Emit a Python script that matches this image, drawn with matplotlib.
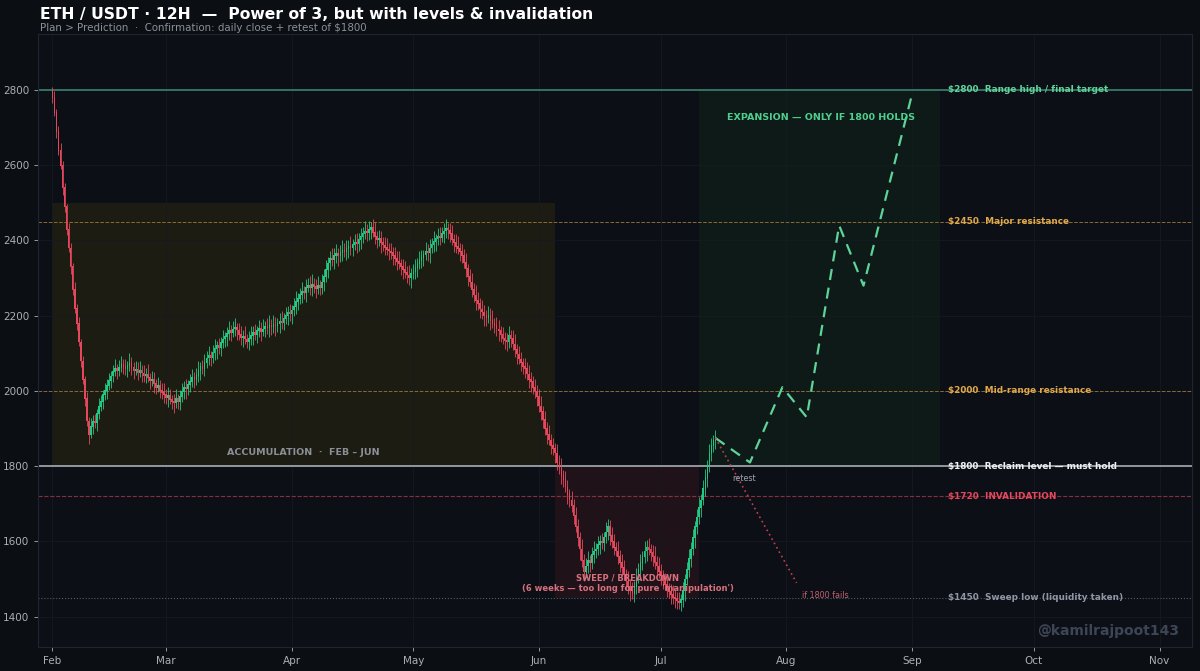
import matplotlib
matplotlib.use("Agg")
import matplotlib.pyplot as plt
import matplotlib.dates as mdates
import numpy as np
import pandas as pd

# 12H closes, Feb 1 -> Jul 14 (one row = one week)
closes = [
    2780, 2740, 2690, 2640, 2600, 2540, 2490, 2430, 2380, 2330, 2270, 2220, 2180, 2130,
    2080, 2030, 1980, 1920, 1885, 1905, 1920, 1915, 1940, 1958, 1972, 1990, 2002, 2015,
    2028, 2040, 2052, 2060, 2055, 2063, 2070, 2066, 2060, 2068, 2074, 2062, 2055, 2058,
    2050, 2056, 2048, 2040, 2045, 2035, 2028, 2032, 2020, 2010, 2015, 2002, 1995, 1990,
    1982, 1988, 1978, 1972, 1968, 1980, 1972, 1985, 1998, 2010, 2005, 2018, 2025, 2035,
    2030, 2042, 2055, 2065, 2060, 2075, 2088, 2095, 2090, 2102, 2112, 2120, 2115, 2128,
    2138, 2145, 2152, 2160, 2156, 2165, 2170, 2162, 2150, 2142, 2146, 2138, 2132, 2140,
    2148, 2155, 2150, 2160, 2166, 2158, 2165, 2172, 2168, 2175, 2170, 2178, 2174, 2180,
    2186, 2182, 2192, 2200, 2208, 2205, 2215, 2225, 2238, 2245, 2256, 2265, 2262, 2275,
    2282, 2276, 2284, 2278, 2272, 2280, 2276, 2290, 2305, 2322, 2340, 2352, 2348, 2360,
    2366, 2360, 2368, 2375, 2370, 2378, 2385, 2380, 2390, 2396, 2392, 2402, 2410, 2418,
    2425, 2420, 2430, 2435, 2422, 2410, 2402, 2405, 2395, 2388, 2382, 2376, 2372, 2368,
    2360, 2352, 2345, 2338, 2330, 2322, 2315, 2308, 2302, 2312, 2318, 2328, 2338, 2346,
    2355, 2362, 2372, 2368, 2380, 2390, 2398, 2405, 2412, 2408, 2418, 2425, 2432, 2428,
    2418, 2402, 2395, 2385, 2378, 2370, 2360, 2342, 2325, 2305, 2290, 2270, 2255, 2240,
    2232, 2218, 2210, 2200, 2195, 2202, 2188, 2180, 2175, 2165, 2160, 2150, 2140, 2135,
    2130, 2148, 2140, 2125, 2110, 2098, 2085, 2075, 2065, 2060, 2045, 2030, 2025, 2010,
    2000, 1985, 1960, 1945, 1925, 1900, 1885, 1870, 1855, 1848, 1835, 1810, 1795, 1775,
    1765, 1745, 1725, 1710, 1695, 1670, 1640, 1610, 1580, 1550, 1520, 1535, 1550, 1545,
    1565, 1575, 1580, 1592, 1600, 1598, 1612, 1625, 1640, 1615, 1600, 1585, 1575, 1560,
    1545, 1530, 1512, 1495, 1480, 1470, 1462, 1480, 1505, 1525, 1545, 1560, 1575, 1585,
    1578, 1570, 1560, 1545, 1535, 1520, 1510, 1495, 1485, 1475, 1468, 1460, 1452, 1448,
    1442, 1438, 1445, 1470, 1500, 1525, 1555, 1580, 1610, 1640, 1665, 1690, 1710, 1740,
    1770, 1800, 1835, 1855, 1868, 1875,
]
first_open = 2795

wick_up = [
    12, 18, 9, 15, 20, 11, 14, 8, 17, 13, 10, 19, 12, 16,
    9, 14, 11, 18, 10, 22, 15, 19, 12, 24, 17, 13, 20, 16,
    21, 14, 18, 25, 12, 19, 23, 15, 20, 13, 26, 17, 14, 22,
    18, 24, 13, 20, 16, 27, 14, 21, 18, 12, 23, 15, 19, 25,
    14, 22, 17, 11, 20, 25, 13, 18, 24, 16, 21, 12, 19, 23,
    15, 20, 26, 13, 18, 22, 17, 24, 12, 19, 25, 14, 21, 16,
    23, 13, 19, 26, 15, 20, 24, 12, 18, 22, 16, 27, 14, 20,
    25, 17, 22, 13, 24, 18, 26, 15, 21, 28, 16, 23, 19, 14,
    20, 26, 15, 22, 18, 24, 13, 21, 27, 16, 19, 25, 14, 22,
    17, 23, 28, 15, 20, 26, 14, 22, 18, 25, 16, 21, 27, 19,
    24, 15, 21, 27, 18, 23, 16, 26, 14, 20, 25, 17, 22, 19,
    26, 18, 23, 14, 21, 27, 16, 24, 19, 13, 22, 25, 17, 20,
    15, 22, 19, 26, 13, 21, 24, 17, 28, 14, 20, 23, 16, 25,
    21, 14, 25, 18, 23, 16, 27, 13, 20, 24, 17, 22, 26, 15,
    19, 24, 16, 22, 27, 14, 21, 18, 25, 13, 20, 23, 17, 26,
    22, 16, 25, 19, 14, 23, 18, 26, 15, 21, 24, 13, 20, 17,
    18, 25, 14, 21, 27, 16, 22, 19, 13, 24, 17, 23, 20, 15,
    23, 17, 20, 26, 14, 22, 18, 25, 16, 21, 13, 24, 19, 27,
    16, 22, 19, 14, 25, 18, 23, 20, 15, 26, 17, 21, 24, 13,
    20, 26, 15, 23, 18, 22, 14, 27, 19, 16, 24, 21, 13, 25,
    17, 23, 20, 14, 26, 19, 22, 16, 25, 18, 21, 15, 27, 20,
    24, 15, 21, 27, 17, 23, 19, 14, 22, 26, 16, 20, 25, 18,
    19, 25, 16, 22, 14, 20, 26, 18, 23, 15, 21, 27, 17, 24,
    22, 16, 24, 19, 15, 21,
]
wick_dn = [
    15, 10, 17, 12, 9, 19, 13, 16, 11, 20, 14, 12, 18, 10,
    16, 12, 20, 14, 25, 11, 18, 13, 21, 15, 10, 19, 14, 22,
    13, 20, 16, 11, 23, 15, 12, 21, 17, 24, 14, 19, 22, 12,
    21, 13, 24, 16, 19, 12, 22, 15, 25, 18, 13, 20, 16, 23,
    17, 24, 12, 21, 26, 14, 19, 23, 13, 20, 25, 16, 22, 15,
    22, 14, 19, 25, 16, 21, 13, 18, 24, 15, 20, 26, 17, 23,
    14, 21, 25, 16, 22, 13, 19, 26, 15, 20, 24, 12, 18, 23,
    19, 26, 14, 22, 17, 25, 13, 21, 16, 24, 20, 15, 27, 18,
    25, 16, 21, 13, 24, 19, 27, 15, 20, 23, 14, 22, 18, 26,
    13, 20, 24, 18, 26, 15, 21, 17, 25, 14, 22, 19, 16, 23,
    20, 27, 16, 23, 14, 21, 25, 18, 22, 15, 26, 19, 24, 17,
    15, 22, 19, 26, 13, 20, 23, 17, 27, 16, 21, 14, 25, 18,
    26, 18, 23, 14, 21, 25, 16, 22, 19, 27, 15, 20, 24, 13,
    18, 24, 15, 22, 27, 14, 20, 26, 17, 21, 13, 25, 19, 23,
    22, 15, 26, 18, 13, 24, 20, 16, 23, 27, 14, 21, 18, 25,
    16, 23, 19, 27, 21, 15, 25, 13, 22, 18, 26, 20, 14, 24,
    24, 17, 22, 15, 20, 26, 14, 23, 19, 25, 16, 21, 27, 18,
    19, 25, 16, 21, 24, 18, 27, 14, 22, 17, 26, 20, 15, 23,
    21, 14, 26, 19, 17, 23, 15, 22, 28, 18, 24, 16, 20, 27,
    17, 23, 20, 15, 26, 19, 24, 16, 21, 25, 18, 22, 14, 20,
    25, 18, 14, 22, 19, 27, 16, 23, 20, 15, 24, 21, 17, 26,
    14, 21, 26, 17, 23, 16, 25, 20, 13, 22, 18, 27, 19, 24,
    22, 17, 24, 20, 28, 15, 19, 23, 16, 26, 21, 18, 25, 14,
    18, 25, 15, 21, 17, 23,
]

# levels on the right
level_prices = [2800, 2450, 2000, 1800, 1720, 1450]
level_texts = ["Range high / final target", "Major resistance", "Mid-range resistance",
               "Reclaim level \u2014 must hold", "INVALIDATION", "Sweep low (liquidity taken)"]
level_colors = ["#5fd39a", "#e0a84a", "#e0a84a", "#eef0f2", "#e5485c", "#8f96a3"]
line_colors = ["#3d8c78", "#8a6a34", "#8a6a34", "#a9adb3", "#8a2e3e", "#555b66"]
line_styles = ["-", "--", "--", "-", "--", ":"]
line_widths = [1.1, 0.7, 0.7, 1.2, 0.8, 0.8]

# projected path (if 1800 holds) and the fail path
proj_dates = ["2025-07-14 12:00", "2025-07-23", "2025-07-31", "2025-08-06",
              "2025-08-14", "2025-08-20", "2025-09-01"]
proj_prices = [1875, 1810, 2010, 1930, 2440, 2280, 2790]
fail_dates = ["2025-07-14 12:00", "2025-08-03 12:00"]
fail_prices = [1875, 1490]

bg = "#0b0e13"
fig = plt.figure(figsize=(12, 6.71), dpi=100, facecolor=bg)
ax = fig.add_axes([0.032, 0.036, 0.961, 0.914])
ax.set_facecolor("#0c1016")

t = pd.Timestamp("2025-02-01") + pd.to_timedelta(np.arange(len(closes)) * 12, unit="h")
x = mdates.date2num(t.to_pydatetime())
c = np.array(closes, dtype=float)
o = np.concatenate([[first_open], c[:-1]])
hi = np.maximum(o, c) + np.array(wick_up)
lo = np.minimum(o, c) - np.array(wick_dn)
up = c >= o
col = np.where(up, "#22c985", "#e5485c")

# zones
def d(s):
    return mdates.date2num(pd.Timestamp(s).to_pydatetime())

ax.fill_between([d("2025-02-01"), d("2025-06-05")], 1800, 2500, color="#1c1c13", lw=0, zorder=0.5)
ax.fill_between([d("2025-06-05"), d("2025-07-10 12:00")], 1450, 1800, color="#1f1319", lw=0, zorder=0.5)
ax.fill_between([d("2025-07-10 12:00"), d("2025-09-07 18:00")], 1800, 2800, color="#0d1a17", lw=0, zorder=0.5)

# level lines + labels
for p, txt, tc, lc, ls, lw in zip(level_prices, level_texts, level_colors, line_colors, line_styles, line_widths):
    ax.axhline(p, color=lc, ls=ls, lw=lw, zorder=1)
    ax.text(d("2025-09-09 22:00"), p, f"${p}  {txt}", color=tc, fontsize=6.4, fontweight="bold",
            va="center", ha="left", zorder=5)

# candles
ax.vlines(x, lo, hi, colors=col, lw=0.6, zorder=3)
ax.bar(x, np.abs(c - o) + 2, bottom=np.minimum(o, c) - 1, width=0.4, color=col, lw=0, zorder=3)

# paths
pdx = [d(s) for s in proj_dates]
ax.plot(pdx, proj_prices, color="#5fd39a", lw=1.6, ls=(0, (5, 3.5)), zorder=4)
fdx = [d(s) for s in fail_dates]
ax.plot(fdx, fail_prices, color="#c0404f", lw=1.2, ls=(0, (1, 2)), zorder=4)

# annotations
ax.text(d("2025-08-09 12:00"), 2726, "EXPANSION \u2014 ONLY IF 1800 HOLDS", color="#4fcf8f",
        fontsize=6.8, fontweight="bold", ha="center", va="center", zorder=5)
ax.text(d("2025-04-03 18:00"), 1836, "ACCUMULATION  \u00b7  FEB \u2013 JUN", color="#8b8f96",
        fontsize=6.8, fontweight="bold", ha="center", va="center", zorder=5)
ax.text(d("2025-06-22 22:00"), 1489, "SWEEP / BREAKDOWN\n(6 weeks \u2014 too long for pure 'manipulation')",
        color="#d9707e", fontsize=6, fontweight="bold", ha="center", va="center", zorder=5,
        linespacing=1.2)
ax.text(d("2025-07-21 16:00"), 1768, "retest", color="#a0a6ae", fontsize=5.8, ha="center", va="center", zorder=5)
ax.text(d("2025-08-10 16:00"), 1456, "if 1800 fails", color="#c06070", fontsize=5.8, ha="center", va="center", zorder=5)
ax.text(0.9896, 0.026, "@kamilrajpoot143", transform=ax.transAxes, color="#3d4556",
        fontsize=10, fontweight="bold", ha="right", va="center", zorder=5)

# axes
ax.set_ylim(1320, 2950)
ax.set_xlim(d("2025-02-01") - 3.45, d("2025-02-01") + 280.9)
ax.set_yticks([1400, 1600, 1800, 2000, 2200, 2400, 2600, 2800])
ax.xaxis.set_major_locator(mdates.MonthLocator())
ax.xaxis.set_major_formatter(mdates.DateFormatter("%b"))
ax.tick_params(colors="#aab0b8", labelsize=7.5, length=3, width=0.6)
ax.grid(True, color="#151a22", lw=0.6)
ax.set_axisbelow(True)
for s in ax.spines.values():
    s.set_color("#1e2430")
    s.set_linewidth(0.8)

fig.text(0.033, 0.978, "ETH / USDT \u00b7 12H  \u2014  Power of 3, but with levels & invalidation",
         color="white", fontsize=11.25, fontweight="bold", va="center", ha="left")
fig.text(0.033, 0.958, "Plan > Prediction  \u00b7  Confirmation: daily close + retest of $1800",
         color="#8a909a", fontsize=7.4, va="center", ha="left")

fig.savefig("out.png", dpi=100, facecolor=bg)
